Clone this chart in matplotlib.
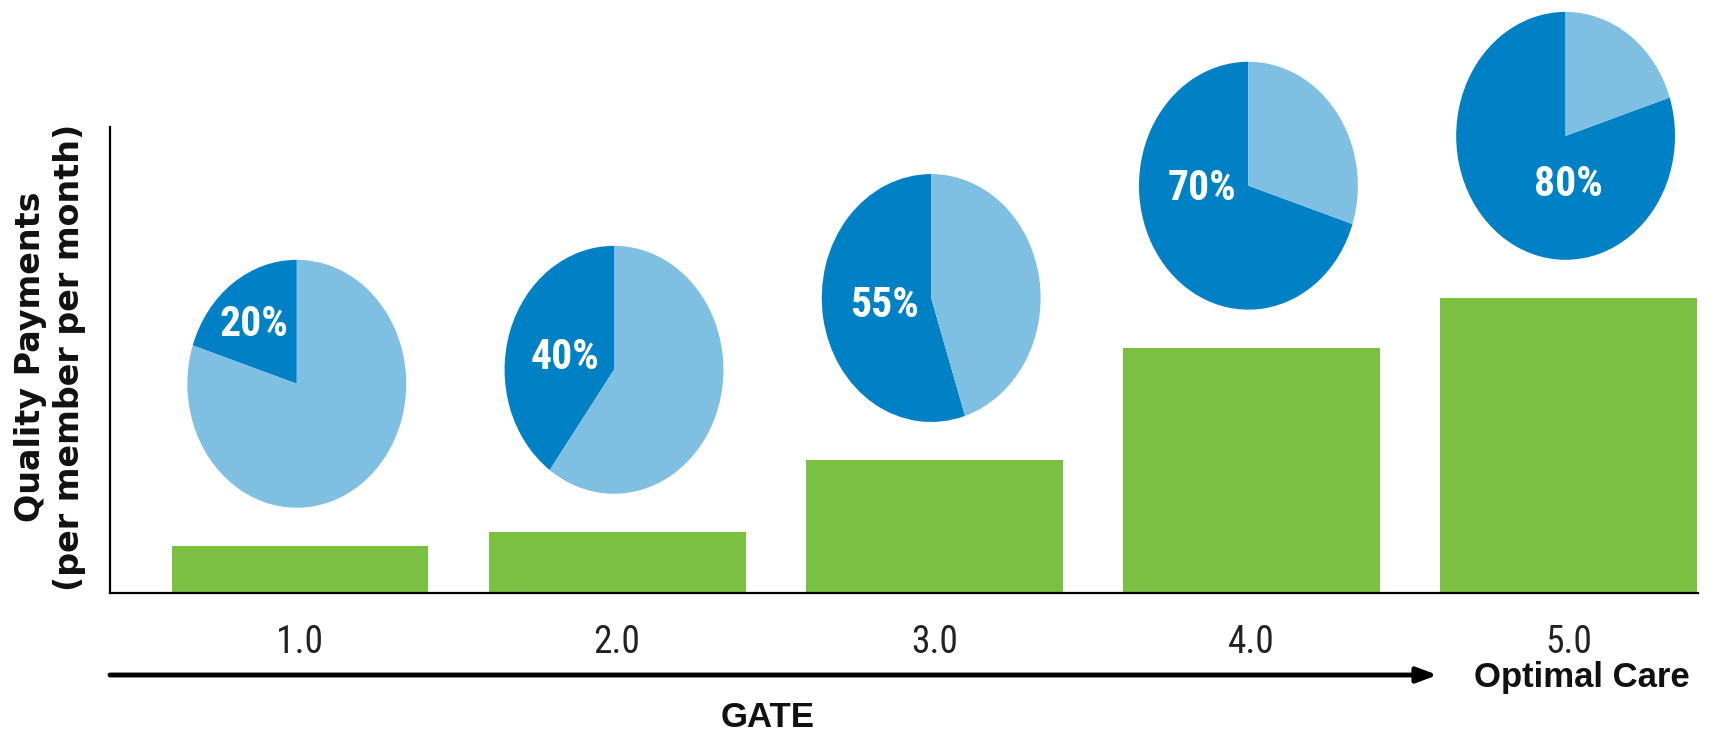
import numpy as np
import matplotlib
matplotlib.use("Agg")
import matplotlib.pyplot as plt
from matplotlib import font_manager

# data
gates = [1, 2, 3, 4, 5]
gate_labels = ["1.0", "2.0", "3.0", "4.0", "5.0"]
payments = [1.01, 1.31, 2.85, 5.26, 6.33]   # bar heights (no scale shown)
shares = [20, 40, 55, 70, 80]               # percent in dark slice

# where the % text sits inside each pie (pie units)
label_pos = [(-0.39, 0.48), (-0.45, 0.10), (-0.43, -0.06), (-0.42, -0.02), (0.03, -0.39)]

green = "#7BC043"
dark = "#0081C6"
light = "#7FBFE2"

# pick a narrow face if one is around, else Arial-like
have = {f.name for f in font_manager.fontManager.ttflist}
narrow_face = "Liberation Sans"
for cand in ["Liberation Sans Narrow", "Roboto Condensed", "Open Sans Condensed", "Arial Narrow"]:
    if cand in have:
        narrow_face = cand
        break
narrow = [narrow_face, "DejaVu Sans"]
arial = ["Liberation Sans", "DejaVu Sans"]
is_narrow = narrow_face != "Liberation Sans"

fig = plt.figure(figsize=(17.29, 7.38), dpi=100)
ax = fig.add_axes([0.0636, 0.1965, 0.9184, 0.6314])

ax.bar(gates, payments, width=0.81, color=green, zorder=2)
ax.set_xlim(0.401, 5.407)
ax.set_ylim(0, 10)

for s in ["top", "right"]:
    ax.spines[s].set_visible(False)
ax.spines["left"].set_linewidth(1.6)
ax.spines["bottom"].set_linewidth(1.6)
ax.set_yticks([])
ax.set_xticks(gates)
ax.set_xticklabels(gate_labels, family=narrow, fontsize=27 if is_narrow else 23,
                   color="#222222")
ax.tick_params(axis="x", length=0, pad=22)

# pies sitting above each bar
pie_w = 0.69
pie_h = 5.32
gap = 0.82
for x, h, p, (lx, ly) in zip(gates, payments, shares, label_pos):
    pax = ax.inset_axes([x - 0.01 - pie_w / 2, h + gap, pie_w, pie_h], transform=ax.transData)
    pax.pie([p, 100 - p], colors=[dark, light], startangle=90, counterclock=True,
            radius=1, wedgeprops=dict(linewidth=0))
    pax.set_aspect("auto")
    pax.set_xlim(-1, 1)
    pax.set_ylim(-1, 1)
    pax.axis("off")
    pax.text(lx, ly, f"{p}%", color="white", ha="center", va="center",
             fontsize=30 if is_narrow else 25, fontweight="bold", family=narrow)

# arrow under the tick labels
ax.annotate("", xy=(0.836, -0.176), xytext=(0.0, -0.176), xycoords="axes fraction",
            textcoords="axes fraction", annotation_clip=False,
            arrowprops=dict(arrowstyle="-|>,head_length=1.2,head_width=0.45",
                            lw=3.5, color="black", shrinkA=0, shrinkB=0))
ax.text(0.927, -0.182, "Optimal Care", transform=ax.transAxes, ha="center", va="center",
        fontsize=25, fontweight="bold", family=arial, color="#111111")
ax.text(0.414, -0.268, "GATE", transform=ax.transAxes, ha="center", va="center",
        fontsize=25, fontweight="bold", family=arial, color="#111111")

fig.text(0.029, 0.516, "Quality Payments\n(per member per month)", rotation=90,
         ha="center", va="center", multialignment="center", linespacing=1.25,
         fontsize=24, fontweight="bold", family="DejaVu Sans", color="#111111")

fig.savefig("out.png", dpi=100)
